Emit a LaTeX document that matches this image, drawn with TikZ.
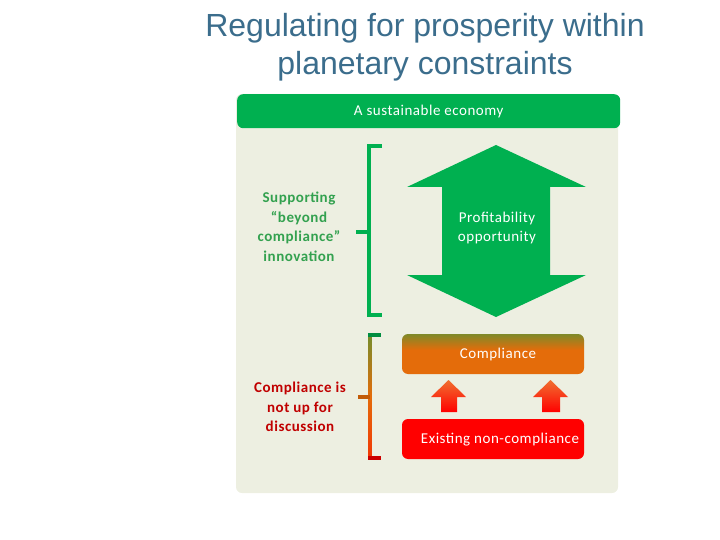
\documentclass[tikz,border=0pt]{standalone}
\usepackage{fontspec}
\setmainfont{Carlito}[LetterSpace=3.5]
\newfontfamily\titlefont{Liberation Sans}
\usetikzlibrary{calc}
\definecolor{titleblue}{HTML}{3B6D8C}
\definecolor{panelbg}{HTML}{EDEFE1}
\definecolor{mygreen}{HTML}{00B050}
\definecolor{txtgreen}{HTML}{33A14F}
\definecolor{darkred}{HTML}{C00000}
\definecolor{myorange}{HTML}{E46C0A}
\definecolor{arrorange}{HTML}{F07030}
\pgfdeclareverticalshading{complshade}{100bp}{color(0bp)=(myorange); color(55bp)=(myorange); color(100bp)=(mygreen)}
\pgfdeclareverticalshading{brackshade}{100bp}{color(0bp)=(red); color(50bp)=(myorange); color(100bp)=(mygreen)}
\tikzset{
  titletxt/.style={font=\titlefont\fontsize{32}{38}\selectfont, text=titleblue, inner sep=0pt},
  smalltxt/.style={font=\fontsize{15}{19}\selectfont, inner sep=0pt, align=center},
  sidetxt/.style={font=\bfseries\fontsize{15}{19.5}\selectfont, inner sep=0pt, align=center},
  brack/.style={line width=3.5pt, line cap=butt},
}
\begin{document}
\begin{tikzpicture}[x=1pt,y=-1pt]
\useasboundingbox (0,0) rectangle (720,540);
% title
\node[titletxt] (t1) at (425,28) {Regulating for prosperity within};
\node[titletxt] (t2) at (425,66) {planetary constraints};
% panel
\fill[panelbg, rounded corners=6pt] (236,94) rectangle (618,493);
\node[fill=mygreen, rounded corners=6pt, minimum width=383pt, minimum height=34pt, inner sep=0pt, anchor=north west] (top) at (237,94) {};
\node[smalltxt, text=white] (toptxt) at (top.center) {A sustainable economy};
% bracket 1
\draw[brack, mygreen] (382,146) -- (369,146) -- (369,315) -- (382,315);
\draw[brack, mygreen] (369,232) -- (356,232);
\node[sidetxt, text=txtgreen] (supp) at (299,227) {Supporting\\“beyond\\compliance”\\innovation};
% double arrow
\fill[mygreen] (496,145) -- (586,187) -- (550,187) -- (550,275) -- (586,275) -- (496,317) -- (407,275) -- (442,275) -- (442,187) -- (407,187) -- cycle;
\node[smalltxt, text=white] (profit) at (497,228) {Profitability\\opportunity};
% bracket 2 (gradient)
\shade[shading=brackshade] (368.2,333.2) rectangle (371.8,459.8);
\fill[mygreen!80!black] (368.2,333.2) rectangle (381,336.8);
\fill[red!80!black] (368.2,456.2) rectangle (381,459.8);
\fill[myorange!85!black] (358,395.2) rectangle (370,398.8);
\node[sidetxt, text=darkred] (cnud) at (300,407) {Compliance is\\not up for\\discussion};
% compliance box
\shade[shading=complshade, rounded corners=6pt] (402,334) rectangle (584,374);
\node[smalltxt, text=white] (compl) at (498,354) {Compliance};
% existing non-compliance
\fill[red, rounded corners=6pt] (402,419) rectangle (584,459);
\node[smalltxt, text=white] (exist) at (500,440) {Existing non-compliance};
% up arrows
\shade[top color=arrorange, bottom color=red] (448.5,380) -- (466,397) -- (457,397) -- (457,412) -- (441,412) -- (441,397) -- (431,397) -- cycle;
\shade[top color=arrorange, bottom color=red] (550.5,380) -- (568,397) -- (560,397) -- (560,412) -- (542,412) -- (542,397) -- (533,397) -- cycle;
\end{tikzpicture}
\end{document}
